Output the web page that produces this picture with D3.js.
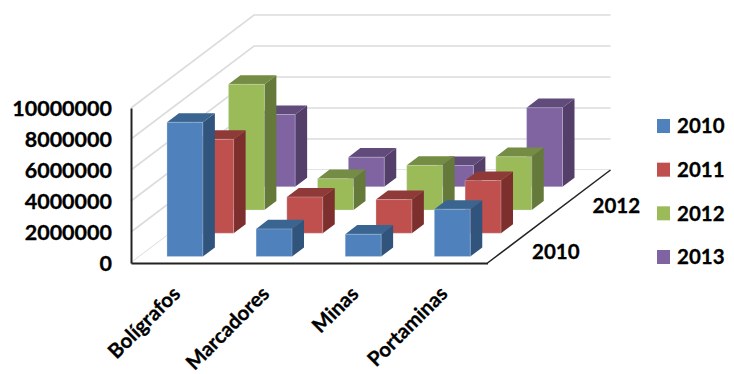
<!DOCTYPE html>
<html>
<head>
<meta charset="utf-8">
<script src="https://d3js.org/d3.v7.min.js"></script>
<style>
  html, body { margin: 0; padding: 0; background: #fff; }
  svg { display: block; }
  text { font-family: Lato, sans-serif; font-weight: 700; font-size: 20.5px; fill: #000; stroke: #000; stroke-width: 0.3px; }
</style>
</head>
<body>
<div id="chart"></div>
<script>
    var w = 734;
    var h = 374;

    var categories = ['Bolígrafos', 'Marcadores', 'Minas', 'Portaminas'];
    var series = ['2010', '2011', '2012', '2013'];
    var depthLabels = ['2010', '2012'];
    var yTicks = [0, 2000000, 4000000, 6000000, 8000000, 10000000];

    // one value per category
    var values2010 = [8660000, 1780000, 1440000, 3050000];
    var values2011 = [6060000, 2340000, 2170000, 3400000];
    var values2012 = [8110000, 2020000, 2880000, 3440000];
    var values2013 = [4660000, 1910000, 1370000, 5100000];
    var seriesValues = [values2010, values2011, values2012, values2013];

    var colors = {
        '2010': { front: '#4f81bd', top: '#3b6591', side: '#30547c' },
        '2011': { front: '#c0504d', top: '#8f3a38', side: '#7d2f2d' },
        '2012': { front: '#9bbb59', top: '#748c43', side: '#65793a' },
        '2013': { front: '#8064a2', top: '#604b7a', side: '#533f6a' }
    };

    var floorY = 263;
    var floorLeft = 131;
    var floorRight = 487.5;
    var depthX = 123;   // how far the back of the floor shifts right
    var depthY = 93;    // and up

    var x = d3.scaleBand().domain(categories).range([floorLeft, floorRight]);
    var y = d3.scaleLinear().domain([0, 10000000]).range([floorY, floorY - 155]);
    var z = d3.scaleBand().domain(series).range([0, 1]);

    var barW = x.bandwidth() * 0.403;
    var barX = x.bandwidth() * 0.307;
    var barD = z.bandwidth() * 0.39;
    var barZ = z.bandwidth() * 0.28;

    // oblique projection: px on the front plane + depth 0..1 + height in px
    function project(px, d, py) {
        return [px + d * depthX, py - d * depthY];
    }

    var svg = d3.select('#chart').append('svg')
        .attr('width', w)
        .attr('height', h);

    // gridlines on the two walls
    var grid = svg.append('g').attr('class', 'grid');
    grid.selectAll('polyline')
        .data(yTicks)
        .enter().append('polyline')
        .attr('fill', 'none')
        .attr('stroke', '#dcdcdc')
        .attr('stroke-width', 1.6)
        .attr('points', function(d) {
            return [project(floorLeft, 0, y(d)), project(floorLeft, 1, y(d)), project(floorRight, 1, y(d))].join(' ');
        });

    // floor outline
    svg.append('polygon')
        .attr('fill', '#fff')
        .attr('points', [project(floorLeft, 0, floorY), project(floorLeft, 1, floorY),
                         project(floorRight, 1, floorY), project(floorRight, 0, floorY)].join(' '));

    // bars, back row first so the front rows cover them
    var rows = svg.selectAll('.row')
        .data(series.slice().reverse())
        .enter().append('g')
        .attr('class', 'row');

    rows.each(function(name) {
        var vals = seriesValues[series.indexOf(name)];
        var c = colors[name];
        var d0 = z(name) + barZ;
        var d1 = d0 + barD;

        var bar = d3.select(this).selectAll('.bar')
            .data(categories)
            .enter().append('g')
            .attr('class', 'bar');

        function left(cat) { return x(cat) + barX; }
        function topY(cat, i) { return y(vals[i]); }

        bar.append('polygon')
            .attr('fill', c.side)
            .attr('points', function(cat, i) {
                var r = left(cat) + barW;
                return [project(r, d0, floorY), project(r, d1, floorY),
                        project(r, d1, topY(cat, i)), project(r, d0, topY(cat, i))].join(' ');
            });
        bar.append('polygon')
            .attr('fill', c.top)
            .attr('points', function(cat, i) {
                var l = left(cat), r = l + barW, t = topY(cat, i);
                return [project(l, d0, t), project(l, d1, t), project(r, d1, t), project(r, d0, t)].join(' ');
            });
        bar.append('polygon')
            .attr('fill', c.front)
            .attr('stroke', '#dfe8f2')
            .attr('stroke-opacity', 0.5)
            .attr('stroke-width', 0.6)
            .attr('points', function(cat, i) {
                var l = left(cat), r = l + barW, t = topY(cat, i);
                return [project(l, d0, floorY), project(r, d0, floorY),
                        project(r, d0, t), project(l, d0, t)].join(' ');
            });
    });

    // value axis
    var yAxis = d3.axisLeft(y)
        .tickValues(yTicks)
        .tickFormat(d3.format('d'))
        .tickSize(0)
        .tickPadding(19);
    var yG = svg.append('g')
        .attr('class', 'y axis')
        .attr('transform', 'translate(' + floorLeft + ',0)')
        .call(yAxis);
    yG.select('.domain').attr('stroke', '#222').attr('stroke-width', 2);
    yG.selectAll('text').style('font-family', 'Lato, sans-serif').style('font-size', '21.5px').attr('dy', '0.36em');

    // category axis
    var xAxis = d3.axisBottom(x)
        .tickSize(0)
        .tickPadding(0);
    var xG = svg.append('g')
        .attr('class', 'x axis')
        .attr('transform', 'translate(0,' + floorY + ')')
        .call(xAxis);
    xG.select('.domain').attr('stroke', '#222').attr('stroke-width', 2);
    xG.selectAll('text')
        .style('font-family', 'Lato, sans-serif')
        .style('font-size', '20.5px')
        .attr('text-anchor', 'end')
        .attr('dy', 0)
        .attr('y', 0)
        .attr('transform', 'translate(6,32) rotate(-45)');

    // series axis along the right edge of the floor
    var a = project(floorRight, 0, floorY);
    var b = project(floorRight, 1, floorY);
    svg.append('line')
        .attr('x1', a[0]).attr('y1', a[1])
        .attr('x2', b[0]).attr('y2', b[1])
        .attr('stroke', '#222')
        .attr('stroke-width', 1.5);

    svg.selectAll('.depth-label')
        .data(depthLabels)
        .enter().append('text')
        .attr('class', 'depth-label')
        .attr('text-anchor', 'middle')
        .attr('dy', '0.36em')
        .attr('transform', function(d, i) {
            var p = project(floorRight, z(d) + z.bandwidth() / 2, floorY);
            return 'translate(' + [p[0] + 53 - i, p[1] + i] + ')';
        })
        .text(function(d) { return d; });

    // legend
    var legendY = d3.scalePoint().domain(series).range([126, 257]);
    var legend = svg.selectAll('.legend')
        .data(series)
        .enter().append('g')
        .attr('class', 'legend')
        .attr('transform', function(d) { return 'translate(657,' + legendY(d) + ')'; });
    legend.append('rect')
        .attr('y', -7)
        .attr('width', 13)
        .attr('height', 14)
        .attr('fill', function(d) { return colors[d].front; });
    legend.append('text')
        .attr('x', 20)
        .attr('dy', '0.36em')
        .text(function(d) { return d; });
</script>
</body>
</html>
